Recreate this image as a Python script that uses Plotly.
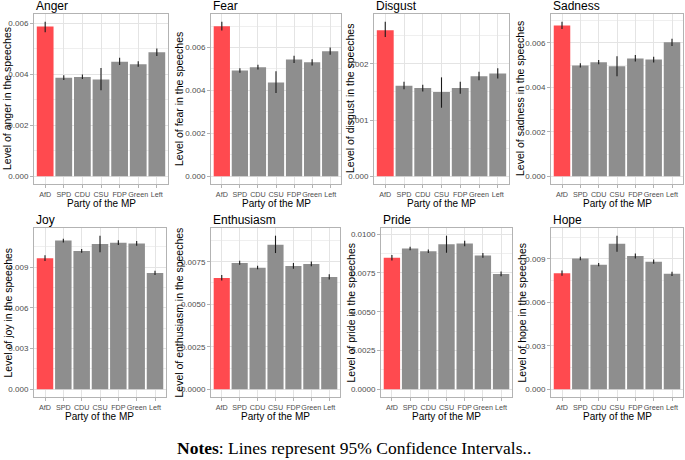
import plotly.graph_objects as go

parties = ["AfD", "SPD", "CDU", "CSU", "FDP", "Green", "Left"]

anger_mean = [0.00588, 0.00387, 0.00390, 0.00380, 0.00450, 0.00440, 0.00487]
anger_low = [0.00566, 0.00378, 0.00382, 0.00338, 0.00437, 0.00430, 0.00472]
anger_high = [0.00607, 0.00397, 0.00400, 0.00425, 0.00466, 0.00452, 0.00502]

fear_mean = [0.00699, 0.00493, 0.00508, 0.00437, 0.00544, 0.00531, 0.00583]
fear_low = [0.00679, 0.00482, 0.00497, 0.00388, 0.00528, 0.00516, 0.00566]
fear_high = [0.00720, 0.00503, 0.00520, 0.00489, 0.00561, 0.00545, 0.00600]

disgust_mean = [0.00260, 0.00161, 0.00157, 0.00150, 0.00157, 0.00178, 0.00183]
disgust_low = [0.00248, 0.00155, 0.00151, 0.00122, 0.00147, 0.00171, 0.00174]
disgust_high = [0.00275, 0.00168, 0.00163, 0.00176, 0.00168, 0.00186, 0.00192]

sadness_mean = [0.00678, 0.00498, 0.00513, 0.00495, 0.00530, 0.00525, 0.00603]
sadness_low = [0.00662, 0.00489, 0.00504, 0.00450, 0.00516, 0.00512, 0.00586]
sadness_high = [0.00695, 0.00508, 0.00523, 0.00540, 0.00545, 0.00538, 0.00619]

joy_mean = [0.00966, 0.01096, 0.01020, 0.01070, 0.01080, 0.01075, 0.00857]
joy_low = [0.00945, 0.01082, 0.01007, 0.01010, 0.01063, 0.01058, 0.00842]
joy_high = [0.00988, 0.01110, 0.01033, 0.01132, 0.01098, 0.01092, 0.00874]

enth_mean = [0.00655, 0.00743, 0.00715, 0.00850, 0.00725, 0.00737, 0.00660]
enth_low = [0.00640, 0.00732, 0.00705, 0.00801, 0.00709, 0.00723, 0.00645]
enth_high = [0.00672, 0.00755, 0.00726, 0.00903, 0.00742, 0.00751, 0.00676]

pride_mean = [0.00847, 0.00907, 0.00890, 0.00935, 0.00940, 0.00863, 0.00743]
pride_low = [0.00830, 0.00896, 0.00878, 0.00880, 0.00922, 0.00848, 0.00728]
pride_high = [0.00866, 0.00919, 0.00901, 0.00990, 0.00958, 0.00878, 0.00760]

hope_mean = [0.00801, 0.00903, 0.00860, 0.01004, 0.00920, 0.00880, 0.00797]
hope_low = [0.00784, 0.00891, 0.00849, 0.00950, 0.00903, 0.00866, 0.00782]
hope_high = [0.00820, 0.00915, 0.00872, 0.01060, 0.00937, 0.00895, 0.00812]

titles = ["Anger", "Fear", "Disgust", "Sadness", "Joy", "Enthusiasm", "Pride", "Hope"]
ylabels = ["Level of anger in the speeches", "Level of fear in the speeches",
           "Level of disgust in the speeches", "Level of sadness in the speeches",
           "Level of joy in the speeches", "Level of enthusiasm in the speeches",
           "Level of pride in the speeches", "Level of hope in the speeches"]
series = [
    (anger_mean, anger_low, anger_high),
    (fear_mean, fear_low, fear_high),
    (disgust_mean, disgust_low, disgust_high),
    (sadness_mean, sadness_low, sadness_high),
    (joy_mean, joy_low, joy_high),
    (enth_mean, enth_low, enth_high),
    (pride_mean, pride_low, pride_high),
    (hope_mean, hope_low, hope_high),
]
dticks = [0.002, 0.002, 0.001, 0.002, 0.003, 0.0025, 0.0025, 0.003]
fmts = [".3f", ".3f", ".3f", ".3f", ".3f", ".4f", ".4f", ".3f"]

W, H = 685, 460
# panel plot areas in pixels: (left, right, top, bottom)
boxes = [
    (34, 168, 14, 184), (211, 341, 14, 184), (374, 509, 14, 184), (551, 683, 14, 184),
    (34, 166, 228, 397), (211, 340, 228, 397), (381, 512, 228, 397), (551, 683, 228, 397),
]
ytitle_x = [7, 179, 350, 520, 7, 178, 350, 521]

RED = "#FF4A4F"
GREY = "#8E8E8E"
BORDER = "#B3B3B3"
GRID = "#E4E4E4"
FONT = "Liberation Sans, Arial, sans-serif"

fig = go.Figure()
layout = {}
annotations = []

for i, (m, lo, hi) in enumerate(series):
    k = i + 1
    xs = "" if k == 1 else str(k)
    err_plus = [h - v for h, v in zip(hi, m)]
    err_minus = [v - l for v, l in zip(m, lo)]
    colors = [RED if p == "AfD" else GREY for p in parties]
    fig.add_trace(go.Bar(
        x=parties, y=m, width=0.9,
        marker=dict(color=colors, line=dict(width=0)),
        error_y=dict(type="data", symmetric=False, array=err_plus, arrayminus=err_minus,
                     color="#1a1a1a", thickness=1.1, width=0),
        xaxis="x" + xs, yaxis="y" + xs, showlegend=False,
    ))
    l, r, t, b = boxes[i]
    top = max(hi) * 1.05
    bot = -max(hi) * 0.05
    d = dticks[i]
    layout["xaxis" + xs] = dict(
        domain=[l / W, r / W], anchor="y" + xs, type="category",
        range=[-0.6, 6.6], showline=True, mirror=True, linecolor=BORDER, linewidth=1,
        showgrid=True, gridcolor=GRID, gridwidth=1,
        ticks="outside", ticklen=3, tickcolor=BORDER, tickangle=0,
        tickfont=dict(size=7.2, color="#4D4D4D", family=FONT), automargin=False,
        fixedrange=True,
    )
    layout["yaxis" + xs] = dict(
        domain=[1 - b / H, 1 - t / H], anchor="x" + xs,
        range=[bot, top], showline=True, mirror=True, linecolor=BORDER, linewidth=1,
        showgrid=True, gridcolor=GRID, gridwidth=1, zeroline=False,
        dtick=d, tick0=0, tickformat=fmts[i],
        minor=dict(dtick=d / 2, tick0=0, showgrid=True, gridcolor="#EFEFEF", gridwidth=0.6),
        ticks="outside", ticklen=3, tickcolor=BORDER,
        tickfont=dict(size=8, color="#4D4D4D", family=FONT), automargin=False,
        fixedrange=True,
    )
    # panel title
    annotations.append(dict(
        text=titles[i], x=l / W, y=1 - (t - 8) / H, xref="paper", yref="paper",
        xanchor="left", yanchor="middle", showarrow=False,
        font=dict(size=12, color="black", family=FONT),
    ))
    # x axis title
    annotations.append(dict(
        text="Party of the MP", x=(l + r) / 2 / W, y=1 - (b + 19) / H,
        xref="paper", yref="paper", xanchor="center", yanchor="middle", showarrow=False,
        font=dict(size=10, color="black", family=FONT),
    ))
    # y axis title
    annotations.append(dict(
        text=ylabels[i], x=ytitle_x[i] / W, y=1 - (t + b) / 2 / H,
        xref="paper", yref="paper", xanchor="center", yanchor="middle", showarrow=False,
        textangle=-90, font=dict(size=10.5, color="black", family=FONT),
    ))

annotations.append(dict(
    text="<b>Notes</b>: Lines represent 95% Confidence Intervals..",
    x=354 / W, y=1 - 448 / H, xref="paper", yref="paper",
    xanchor="center", yanchor="middle", showarrow=False,
    font=dict(size=17.5, color="black", family="Liberation Serif, DejaVu Serif, serif"),
))

fig.update_layout(
    width=W, height=H, margin=dict(l=0, r=0, t=0, b=0),
    paper_bgcolor="white", plot_bgcolor="white",
    annotations=annotations, bargap=0.1,
    **layout,
)
fig.write_html("out.html", config={"displayModeBar": False},
               post_script="document.body.style.margin='0px';document.body.style.overflow='hidden';")
